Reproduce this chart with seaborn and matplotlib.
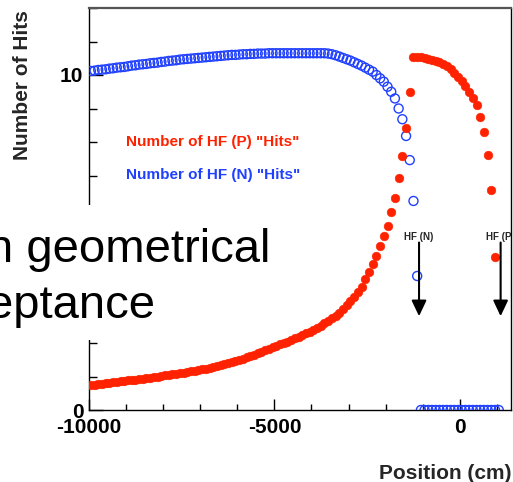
import numpy as np
import pandas as pd
import matplotlib
matplotlib.use("Agg")
import matplotlib.pyplot as plt
from matplotlib.patches import Rectangle
from matplotlib.ticker import MultipleLocator, FixedLocator
import seaborn as sns

# ---------------- data ----------------
position_cm = list(range(-9950, 1051, 100))

hits_hf_n = [
    10.12, 10.13, 10.15, 10.16, 10.17, 10.19, 10.20, 10.22, 10.23, 10.24,
    10.26, 10.28, 10.29, 10.31, 10.32, 10.33, 10.35, 10.36, 10.37, 10.39,
    10.40, 10.42, 10.43, 10.44, 10.46, 10.47, 10.48, 10.49, 10.50, 10.51,
    10.52, 10.53, 10.54, 10.55, 10.56, 10.57, 10.58, 10.59, 10.60, 10.60,
    10.61, 10.62, 10.62, 10.63, 10.63, 10.64, 10.64, 10.64,
    10.65, 10.65, 10.65, 10.65, 10.65, 10.65, 10.65, 10.65,
    10.65, 10.65, 10.65, 10.65, 10.65, 10.65, 10.65, 10.65,
    10.64, 10.62, 10.59, 10.55, 10.51, 10.47, 10.43, 10.38, 10.33, 10.28,
    10.22, 10.16, 10.10, 10.00, 9.90, 9.80, 9.65, 9.50, 9.30, 9.00,
    8.68, 8.18, 7.46, 6.24, 4.00,
    0, 0, 0, 0, 0, 0, 0, 0, 0, 0, 0,
    0, 0, 0, 0, 0, 0, 0, 0, 0, 0, 0,
]

hits_hf_p = [
    0.75, 0.76, 0.78, 0.79, 0.81, 0.82, 0.84, 0.85, 0.87, 0.88,
    0.89, 0.90, 0.91, 0.93, 0.94, 0.95, 0.97, 0.98, 1.00, 1.01,
    1.03, 1.05, 1.06, 1.08, 1.10, 1.11, 1.13, 1.15, 1.17, 1.19,
    1.21, 1.23, 1.26, 1.28, 1.31, 1.33, 1.36, 1.39, 1.42, 1.45,
    1.49, 1.53, 1.57, 1.61, 1.65, 1.70, 1.74, 1.78, 1.82, 1.87,
    1.91, 1.96, 2.00, 2.04, 2.09, 2.14, 2.19, 2.24, 2.29, 2.34,
    2.40, 2.45, 2.52, 2.59, 2.66, 2.74, 2.82, 2.91, 3.01, 3.12,
    3.25, 3.38, 3.52, 3.68, 3.90, 4.13, 4.35, 4.60, 4.90, 5.20,
    5.49, 5.91, 6.33, 6.93, 7.58, 8.42, 9.49,
    10.55, 10.54, 10.53, 10.51, 10.49, 10.46, 10.43, 10.39, 10.34, 10.28,
    10.18, 10.07, 9.95, 9.82, 9.67, 9.50, 9.32, 9.10, 8.75, 8.30,
    7.60, 6.57, 4.58, np.nan,
]

x_tick_values = [-10000, -5000, 0]
x_tick_labels = ["-10000", "-5000", "0"]
y_tick_values = [0, 10]
y_tick_labels = ["0", "10"]

legend_texts = ['Number of HF (P) "Hits"', 'Number of HF (N) "Hits"']
hf_labels = ["HF (N)", "HF (P)"]
hf_positions = [-1100, 1100]

overlay_lines = ["n geometrical", "eptance"]

RED = "#ff2200"
BLUE = "#2040ff"

df = pd.DataFrame({"position": position_cm, "hf_n": hits_hf_n, "hf_p": hits_hf_p})

# ---------------- figure ----------------
sns.set_style("white")
plt.rcParams["font.family"] = ["Liberation Sans", "DejaVu Sans"]

W, H = 513, 482
fig = plt.figure(figsize=(W / 100, H / 100), dpi=100)
ax = fig.add_axes([89 / W, (H - 410) / H, (511 - 89) / W, (410 - 8) / H])

sns.scatterplot(data=df, x="position", y="hf_n", ax=ax, marker="o", s=42,
                facecolors="none", edgecolors=BLUE, linewidth=1.0, zorder=3,
                legend=False)
sns.scatterplot(data=df.dropna(subset=["hf_p"]), x="position", y="hf_p", ax=ax,
                marker="o", s=40, color=RED, edgecolor=RED, linewidth=0.3,
                zorder=4, legend=False)

ax.set_xlim(-10000, 1380)
ax.set_ylim(0, 12)

ax.xaxis.set_major_locator(FixedLocator(x_tick_values))
ax.set_xticklabels(x_tick_labels)
ax.xaxis.set_minor_locator(MultipleLocator(1000))
ax.yaxis.set_major_locator(FixedLocator(y_tick_values))
ax.set_yticklabels(y_tick_labels)
ax.yaxis.set_minor_locator(MultipleLocator(1))

ax.tick_params(axis="x", which="both", bottom=True, top=False)
ax.tick_params(axis="y", which="both", left=True, right=False)
ax.tick_params(axis="x", which="major", direction="in", length=8, width=1,
               pad=5.5, labelsize=15, colors="black")
ax.tick_params(axis="x", which="minor", direction="in", length=4, width=1,
               colors="black")
ax.tick_params(axis="y", which="major", direction="in", length=10, width=1,
               pad=4, labelsize=15, colors="black")
ax.tick_params(axis="y", which="minor", direction="in", length=5.7, width=1,
               colors="black")
for lab in ax.get_xticklabels() + ax.get_yticklabels():
    lab.set_fontweight("bold")

for side in ["left", "bottom", "right"]:
    ax.spines[side].set_color("black")
    ax.spines[side].set_linewidth(1)
ax.spines["top"].set_color("#555555")
ax.spines["top"].set_linewidth(1.6)

ax.set_ylabel("Number of Hits", fontsize=15, fontweight="bold", loc="top")
ax.yaxis.set_label_coords(-0.135, 0.995)
ax.set_xlabel("Position (cm)", fontsize=15, fontweight="bold", loc="right")
ax.xaxis.label.set_va("baseline")
ax.xaxis.set_label_coords(1.002, -(479 - 410) / 402)

# legend texts
ax.text(-9000, 8.0, legend_texts[0], color=RED, fontsize=11, fontweight="bold",
        va="center", ha="left")
ax.text(-9000, 7.0, legend_texts[1], color=BLUE, fontsize=11, fontweight="bold",
        va="center", ha="left")

# HF arrows
for lab, xp in zip(hf_labels, hf_positions):
    ax.annotate("", xy=(xp, 2.8), xytext=(xp, 5.0),
                arrowprops=dict(arrowstyle="-|>,head_length=0.95,head_width=0.45",
                                mutation_scale=10, color="black", lw=1.5,
                                shrinkA=0, shrinkB=0), zorder=5)
    ax.text(xp, 5.17, lab, fontsize=7, fontweight="bold", ha="center",
            va="center", clip_on=True, zorder=5)

# overlay slide text on white box
fig.add_artist(Rectangle((0, 1 - 340 / H), 275 / W, (340 - 205) / H,
                         transform=fig.transFigure, facecolor="white",
                         edgecolor="none", zorder=10))
fig.text(-13 / W, 1 - 262 / H, overlay_lines[0], fontsize=34, va="baseline",
         ha="left", zorder=11, color="black")
fig.text(-13 / W, 1 - 318 / H, overlay_lines[1], fontsize=34, va="baseline",
         ha="left", zorder=11, color="black")

fig.savefig("out.png", dpi=100)
